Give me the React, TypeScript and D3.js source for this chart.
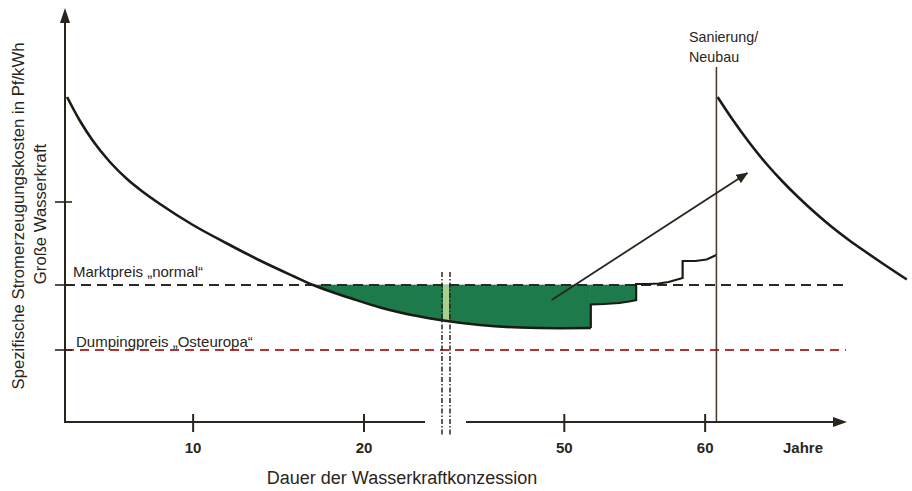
import React from 'react';
import * as d3 from 'd3';

const W = 912;
const H = 491;

// broken time axis: left part 2.5..24.8, right part 41.6..70 (years)
const yearBreakpoints = [2.5, 24.8, 41.6, 70];
const xTickYears = [10, 20, 50, 60];
const xTickLabels = ['10', '20', '50', '60'];
const yTickValues = [7.2, 13.7, 22];
const marktpreis = 13.7;
const dumpingpreis = 7.2;
const sanierungYear = 60.8;

// cost curve during the concession
const costYears = [2.62, 3.38, 4.14, 5.13, 6.13, 7.07, 8.06, 9.99, 11.98, 13.91, 15.85, 17.02, 19.36, 20.94, 22.11, 24.45, 44.01, 46.85, 49.68, 51.88];
const costValues = [32.5, 30.1, 28.1, 26.0, 24.3, 23.0, 21.8, 19.7, 17.85, 16.15, 14.6, 13.7, 12.3, 11.45, 10.95, 10.2, 9.7, 9.45, 9.38, 9.4];
// stepwise increase at the end of the concession
const stepYears = [51.88, 51.88, 52.8, 53.9, 54.6, 55.1, 55.1, 56.0, 56.7, 57.4, 58.4, 58.4, 59.3, 60.1, 60.8];
const stepValues = [9.4, 11.75, 11.8, 11.9, 12.05, 12.2, 13.8, 13.8, 13.85, 14.0, 14.4, 16.1, 16.1, 16.25, 16.7];
// after renovation / new build
const renewYears = [60.88, 61.92, 63.13, 64.33, 65.46, 66.67, 67.87, 69.0, 70.2, 71.41, 72.55, 74.32];
const renewValues = [32.5, 30.3, 27.95, 25.85, 24.1, 22.4, 20.85, 19.5, 18.2, 17.0, 15.9, 14.25];
// trend arrow
const trendYears = [49.1, 63.0];
const trendValues = [12.2, 24.9];

const yMax = 41.2;

const ink = '#2a251c';
const font = '"Liberation Sans", Arial, Helvetica, sans-serif';

export default function App() {
  const x = d3.scaleLinear().domain(yearBreakpoints).range([65, 446, 446, 846]);
  const y = d3.scaleLinear().domain([0, yMax]).range([422, 10]);

  const x0 = x(yearBreakpoints[0]);
  const y0 = y(0);
  const xBreak = x(yearBreakpoints[1]);
  const xEnd = x(yearBreakpoints[3]);

  const costPts: [number, number][] = costYears.map((t, i) => [t, costValues[i]]);
  const stepPts: [number, number][] = stepYears.map((t, i) => [t, stepValues[i]]);
  const renewPts: [number, number][] = renewYears.map((t, i) => [t, renewValues[i]]);

  const smooth = d3.line<[number, number]>().x(d => x(d[0])).y(d => y(d[1])).curve(d3.curveMonotoneX);
  const straight = d3.line<[number, number]>().x(d => x(d[0])).y(d => y(d[1]));

  const areaSmooth = d3.area<[number, number]>().x(d => x(d[0])).y0(y(marktpreis)).y1(d => y(d[1])).curve(d3.curveMonotoneX);
  const areaStraight = d3.area<[number, number]>().x(d => x(d[0])).y0(y(marktpreis)).y1(d => y(d[1]));

  const greenA = areaSmooth(costPts.filter(p => p[0] >= 17)) || '';
  const greenB = areaStraight(stepPts.slice(1, 6)) || '';

  const ym = y(marktpreis);
  const yd = y(dumpingpreis);

  const ax1 = x(trendYears[0]), ay1 = y(trendValues[0]);
  const ax2 = x(trendYears[1]), ay2 = y(trendValues[1]);

  const xs = x(sanierungYear);

  return (
    <svg width={W} height={H} style={{ position: 'absolute', left: 0, top: 0, background: '#fff' }}>
      <defs>
        <marker id="ah" viewBox="0 0 12 10" refX="11" refY="5" markerWidth="12" markerHeight="10" markerUnits="userSpaceOnUse" orient="auto">
          <path d="M0,0 L12,5 L0,10 Z" fill={ink} />
        </marker>
        <clipPath id="band">
          <rect x={xBreak - 3} y={0} width={6} height={H} />
        </clipPath>
      </defs>
      <rect x={0} y={0} width={W} height={H} fill="#fff" />

      {/* green gap area */}
      <path d={greenA} fill="#1d7a4b" stroke="#1d7a4b" strokeWidth={0.6} />
      <path d={greenB} fill="#1d7a4b" stroke="#1d7a4b" strokeWidth={0.6} />
      <g clipPath="url(#band)">
        <path d={greenA} fill="#a7cf8e" />
      </g>

      {/* price lines */}
      <line x1={x0} x2={xEnd} y1={ym} y2={ym} stroke="#2b2a22" strokeWidth={2} strokeDasharray="10,6" />
      <line x1={x0} x2={xEnd} y1={yd} y2={yd} stroke="#b03434" strokeWidth={2} strokeDasharray="9,6" />

      {/* curves */}
      <path d={smooth(costPts) || ''} fill="none" stroke="#1c1a14" strokeWidth={2.6} />
      <path d={straight(stepPts) || ''} fill="none" stroke="#1c1a14" strokeWidth={2.2} />
      <path d={smooth(renewPts) || ''} fill="none" stroke="#1c1a14" strokeWidth={2.6} />

      {/* Sanierung line */}
      <line x1={xs} x2={xs} y1={y(35.5)} y2={y0} stroke="#4e3f32" strokeWidth={1.6} />

      {/* trend arrow */}
      <line x1={ax1} y1={ay1} x2={ax2} y2={ay2} stroke={ink} strokeWidth={1.8} markerEnd="url(#ah)" />

      {/* axes */}
      <line x1={x0} x2={x0} y1={y0 + 1} y2={y(yMax) + 10} stroke={ink} strokeWidth={2} />
      <path d={`M${x0 - 5},${y(yMax) + 13} L${x0},${y(yMax) - 2} L${x0 + 5},${y(yMax) + 13} Z`} fill={ink} />
      <line x1={x0 - 1} x2={xBreak - 21} y1={y0} y2={y0} stroke={ink} strokeWidth={2} />
      <line x1={xBreak + 20} x2={xEnd - 10} y1={y0} y2={y0} stroke={ink} strokeWidth={2} />
      <path d={`M${xEnd - 13},${y0 - 5} L${xEnd + 1},${y0} L${xEnd - 13},${y0 + 5} Z`} fill={ink} />

      {yTickValues.map(v => (
        <line key={v} x1={x0 - 10} x2={x0 + 7} y1={y(v)} y2={y(v)} stroke={ink} strokeWidth={1.6} />
      ))}
      {xTickYears.map((t, i) => (
        <g key={t}>
          <line x1={x(t)} x2={x(t)} y1={y0 - 8} y2={y0 + 10} stroke={ink} strokeWidth={2} />
          <text x={x(t)} y={y0 + 31} textAnchor="middle" fontFamily={font} fontSize={15} fontWeight="bold" fill={ink}>{xTickLabels[i]}</text>
        </g>
      ))}

      {/* axis break */}
      {[-4, 4].map(d => (
        <line key={d} x1={xBreak + d} x2={xBreak + d} y1={ym - 13} y2={y0 + 13} stroke={ink} strokeWidth={1.5} strokeDasharray="5,2,1.5,2" />
      ))}

      {/* texts */}
      <text x={73} y={277} fontFamily={font} fontSize={15} fill={ink}>Marktpreis „normal“</text>
      <text x={76} y={347} fontFamily={font} fontSize={15} fill={ink}>Dumpingpreis „Osteuropa“</text>
      <text x={689} y={42} fontFamily={font} fontSize={14.3} fill={ink}>Sanierung/</text>
      <text x={689} y={62} fontFamily={font} fontSize={14.3} fill={ink}>Neubau</text>
      <text x={803} y={453} textAnchor="middle" fontFamily={font} fontSize={15} fontWeight="bold" fill={ink}>Jahre</text>
      <text x={402} y={484} textAnchor="middle" fontFamily={font} fontSize={18} fill={ink}>Dauer der Wasserkraftkonzession</text>
      <text transform="translate(24,216) rotate(-90)" textAnchor="middle" fontFamily={font} fontSize={16.7} fill={ink}>Spezifische Stromerzeugungskosten in Pf/kWh</text>
      <text transform="translate(46,214) rotate(-90)" textAnchor="middle" fontFamily={font} fontSize={16.7} fill={ink}>Große Wasserkraft</text>
    </svg>
  );
}
